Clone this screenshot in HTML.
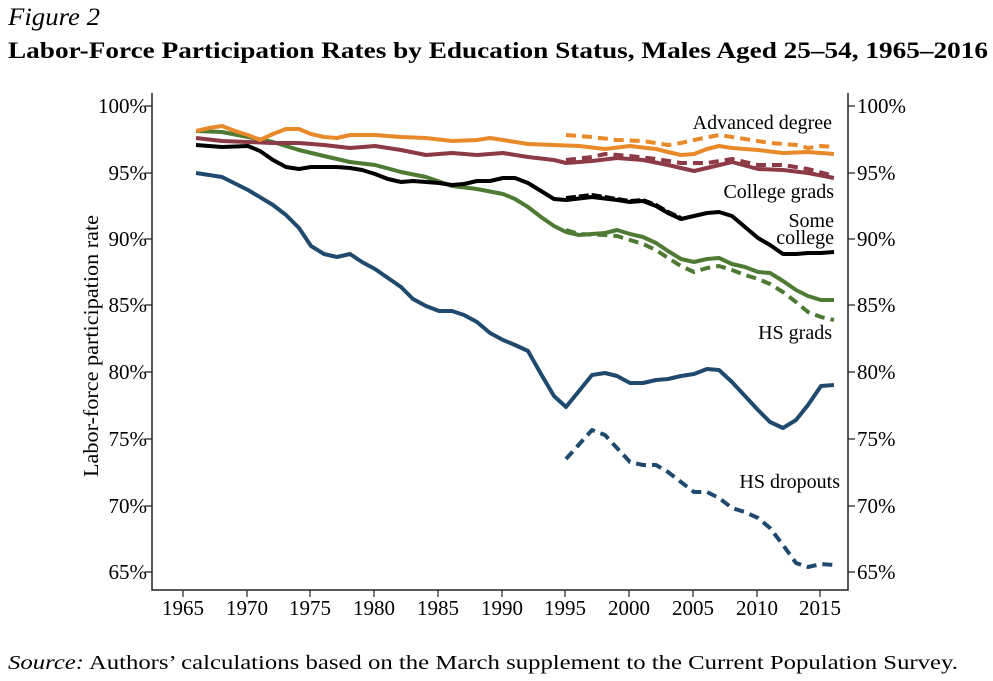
<!DOCTYPE html>
<html><head><meta charset="utf-8"><style>
body{margin:0;background:#fff;}
svg{display:block;font-family:"Liberation Serif",serif;}
</style></head><body>
<svg width="993" height="681" viewBox="0 0 993 681" xmlns="http://www.w3.org/2000/svg">
<text x="8" y="25" font-size="25" font-style="italic" textLength="92" lengthAdjust="spacingAndGlyphs">Figure 2</text>
<text x="8" y="58" font-size="23" font-weight="bold" textLength="980" lengthAdjust="spacingAndGlyphs">Labor-Force Participation Rates by Education Status, Males Aged 25–54, 1965–2016</text>
<text x="8" y="669" font-size="19.5" textLength="950" lengthAdjust="spacingAndGlyphs"><tspan font-style="italic">Source:</tspan> Authors’ calculations based on the March supplement to the Current Population Survey.</text>
<g stroke="#222" stroke-width="1.5" fill="none">
<path d="M152,93 V590 H848 V93"/>
</g>
<g stroke="#222" stroke-width="1.2">
<path d="M145,106H152M145,173H152M145,239H152M145,305H152M145,372H152M145,439H152M145,506H152M145,572H152"/>
<path d="M848,106H855M848,173H855M848,239H855M848,305H855M848,372H855M848,439H855M848,506H855M848,572H855"/>
<path d="M183,590V597M247,590V597M310,590V597M374,590V597M438,590V597M502,590V597M565,590V597M629,590V597M693,590V597M757,590V597M820,590V597"/>
</g>
<g font-size="21" text-anchor="end">
<text x="147" y="113">100%</text><text x="147" y="180">95%</text><text x="147" y="246">90%</text><text x="147" y="312">85%</text><text x="147" y="379">80%</text><text x="147" y="446">75%</text><text x="147" y="513">70%</text><text x="147" y="579">65%</text>
</g>
<g font-size="21">
<text x="857" y="113">100%</text><text x="857" y="180">95%</text><text x="857" y="246">90%</text><text x="857" y="312">85%</text><text x="857" y="379">80%</text><text x="857" y="446">75%</text><text x="857" y="513">70%</text><text x="857" y="579">65%</text>
</g>
<g font-size="21" text-anchor="middle">
<text x="183" y="615">1965</text><text x="247" y="615">1970</text><text x="310" y="615">1975</text><text x="374" y="615">1980</text><text x="438" y="615">1985</text><text x="502" y="615">1990</text><text x="565" y="615">1995</text><text x="629" y="615">2000</text><text x="693" y="615">2005</text><text x="757" y="615">2010</text><text x="820" y="615">2015</text>
</g>
<text transform="translate(98,346) rotate(-90)" font-size="21" text-anchor="middle" textLength="262" lengthAdjust="spacingAndGlyphs">Labor-force participation rate</text>
<g fill="none" stroke-width="4" stroke-linejoin="round" stroke-linecap="butt">
<polyline stroke="#1f4a6e" points="196,173 222,177 248,190 273,205 286,215 299,228 311,246 324,254 337,257 350,254 362,262 375,269 388,278 401,287 413,299 426,306 439,311 452,311 464,315 477,322 490,333 503,340 515,345 528,351 541,374 554,396 566,407 579,391 592,375 605,373 617,376 630,383 643,383 656,380 668,379 681,376 694,374 707,369 719,370 732,382 745,396 758,410 770,422 783,428 796,420 808,405 821,386 834,385"/>
<polyline stroke="#1f4a6e" stroke-dasharray="10,6" points="566,459 592,430 605,435 617,448 630,462 643,465 656,465 668,472 681,482 694,492 707,492 719,498 732,508 745,512 758,518 770,528 783,545 796,563 808,567 821,564 834,565"/>
<polyline stroke="#4e7a34" points="196,131 222,132 248,137 273,142 299,150 324,156 350,162 375,165 401,172 426,177 452,186 477,189 503,194 515,199 528,207 541,217 554,226 566,232 579,235 605,233 617,230 630,234 643,237 656,243 668,251 681,259 694,262 707,259 719,258 732,264 745,267 758,272 770,273 783,281 796,290 808,296 821,300 834,300"/>
<polyline stroke="#4e7a34" stroke-dasharray="10,6" points="566,230 579,234 605,235 617,236 630,240 643,244 656,250 668,258 681,266 694,272 707,268 719,266 732,270 745,275 758,279 770,284 783,292 796,302 808,312 821,317 834,320"/>
<polyline stroke="#8c3a45" points="196,138 222,141 248,142 273,143 299,143 324,145 350,148 375,146 401,150 426,155 452,153 477,155 503,153 528,157 554,160 566,163 592,161 617,158 643,160 668,165 694,171 707,168 732,162 758,169 783,170 808,173 834,178"/>
<polyline stroke="#8c3a45" stroke-dasharray="10,6" points="566,160 592,157 605,154 630,156 656,159 681,163 707,163 732,159 758,165 783,165 808,169 834,176"/>
<polyline stroke="#e8892a" points="196,131 209,128 222,126 235,131 248,135 260,140 273,134 286,129 299,129 311,134 324,137 337,138 350,135 375,135 401,137 426,138 452,141 477,140 490,138 503,140 528,144 554,145 579,146 605,149 630,146 656,149 668,152 681,155 694,154 707,149 719,146 732,148 758,150 783,153 808,152 834,154"/>
<polyline stroke="#e8892a" stroke-dasharray="10,6" points="566,135 592,137 617,140 643,141 668,145 681,143 694,140 719,135 745,139 770,143 796,145 808,148 821,146 834,147"/>
<polyline stroke="#000" stroke-dasharray="10,3" points="566,198 592,195 617,199 630,201 643,200 656,205 668,212 681,218"/>
<polyline stroke="#000" points="196,145 222,147 248,146 260,151 273,160 286,167 299,169 311,167 337,167 350,168 362,170 375,174 388,179 401,182 413,181 439,183 452,185 464,184 477,181 490,181 503,178 515,178 528,183 541,191 554,199 566,200 592,197 617,200 630,202 643,201 656,206 668,213 681,219 694,216 707,213 719,212 732,216 745,227 758,238 770,245 783,254 796,254 808,253 821,253 834,252"/>
</g>
<g font-size="20" text-anchor="end">
<text x="832" y="129">Advanced degree</text>
<text x="834" y="198">College grads</text>
<text x="834" y="227">Some</text>
<text x="834" y="244">college</text>
<text x="832" y="339">HS grads</text>
<text x="840" y="488">HS dropouts</text>
</g>
</svg>
</body></html>
